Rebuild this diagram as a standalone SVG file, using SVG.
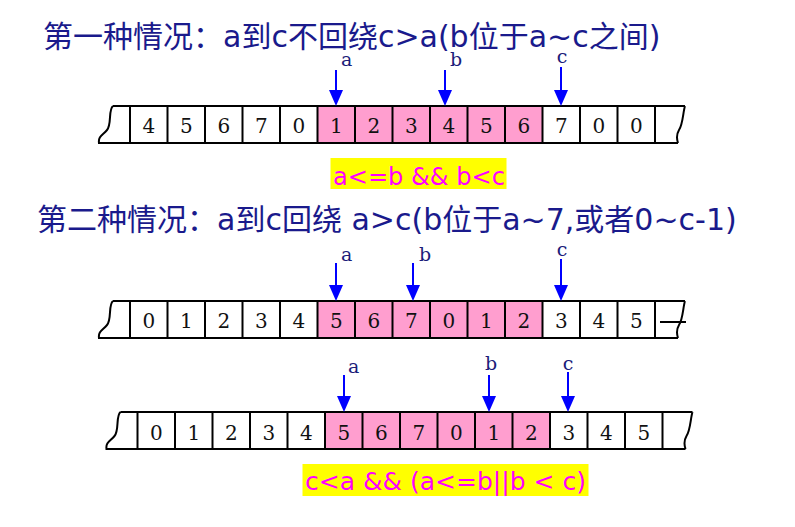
<svg xmlns="http://www.w3.org/2000/svg" width="795" height="527" viewBox="0 0 795 527">
<style>
.title{fill:#1a1a8c;font-family:"DejaVu Sans","Noto Sans CJK SC",sans-serif;}
.cj{font-family:"Noto Sans CJK SC",sans-serif;font-size:30px;}
.la{font-family:"DejaVu Sans",sans-serif;font-size:30px;}
.ln{stroke:#000;stroke-width:2;fill:none;}
.pk{fill:#ff9ecf;}
.dg{font-family:"DejaVu Serif","Liberation Serif",serif;font-size:20px;fill:#111;text-anchor:middle;}
.lb{font-family:"DejaVu Serif","Liberation Serif",serif;font-size:19px;fill:#1c1c7a;}
.arr{stroke:#0000ff;stroke-width:2;fill:none;marker-end:url(#ah);}
.box{fill:#ffff00;}
.cond{font-family:"DejaVu Sans",sans-serif;font-size:24px;fill:#ff00ff;}
</style>
<defs>
<marker id="ah" viewBox="0 0 16 14" refX="6" refY="7" markerWidth="16" markerHeight="14" markerUnits="userSpaceOnUse" orient="auto">
<path d="M0,0 L16,7 L0,14 z" fill="#0000ff"/>
</marker>
</defs>
<rect width="795" height="527" fill="#fff"/>

<g id="title1">
<text class="title" x="43" y="47"><tspan class="cj">第一种情况：</tspan><tspan class="la">a</tspan><tspan class="cj">到</tspan><tspan class="la">c</tspan><tspan class="cj">不回绕</tspan><tspan class="la">c&gt;a(b</tspan><tspan class="cj">位于</tspan><tspan class="la">a~c</tspan><tspan class="cj">之间</tspan><tspan class="la">)</tspan></text>
</g>

<g id="array1">
<rect class="pk" x="317.5" y="106" width="225" height="37"/>
<path class="ln" d="M113,106 H685 M98,143 H678 M113,106 C108,110 112,124 107,130 C103,135 98,136 99,143 M685,106 C683,112 683,124 679,130 C676,135 677,140 678,143"/>
<path class="ln" d="M130,106V143 M167.5,106V143 M205,106V143 M242.5,106V143 M280,106V143 M317.5,106V143 M355,106V143 M392.5,106V143 M430,106V143 M467.5,106V143 M505,106V143 M542.5,106V143 M580,106V143 M617.5,106V143 M655,106V143"/>
<g class="dg">
<text x="148.75" y="133">4</text><text x="186.25" y="133">5</text><text x="223.75" y="133">6</text><text x="261.25" y="133">7</text><text x="298.75" y="133">0</text><text x="336.25" y="133">1</text><text x="373.75" y="133">2</text><text x="411.25" y="133">3</text><text x="448.75" y="133">4</text><text x="486.25" y="133">5</text><text x="523.75" y="133">6</text><text x="561.25" y="133">7</text><text x="598.75" y="133">0</text><text x="636.25" y="133">0</text>
</g>
</g>

<g id="labels1">
<text class="lb" x="341" y="66">a</text>
<text class="lb" x="450" y="66">b</text>
<text class="lb" x="562" y="63" text-anchor="middle">c</text>
</g>

<g id="cond1">
<rect class="box" x="330.5" y="158" width="176" height="31"/>
<text class="cond" x="333" y="185" textLength="172" lengthAdjust="spacingAndGlyphs">a&lt;=b &amp;&amp; b&lt;c</text>
</g>

<g id="title2">
<text class="title" x="37" y="230"><tspan class="cj">第二种情况：</tspan><tspan class="la">a</tspan><tspan class="cj">到</tspan><tspan class="la">c</tspan><tspan class="cj">回绕</tspan><tspan class="la" xml:space="preserve"> a&gt;c(b</tspan><tspan class="cj">位于</tspan><tspan class="la">a~7,</tspan><tspan class="cj">或者</tspan><tspan class="la">0~c-1)</tspan></text>
</g>

<g id="array2">
<rect class="pk" x="317.5" y="301" width="225" height="37"/>
<path class="ln" d="M113,301 H685 M98,338 H678 M113,301 C108,305 112,319 107,325 C103,330 98,331 99,338 M685,301 C683,307 683,319 679,325 C676,330 677,335 678,338 M660,322 H686"/>
<path class="ln" d="M130,301V338 M167.5,301V338 M205,301V338 M242.5,301V338 M280,301V338 M317.5,301V338 M355,301V338 M392.5,301V338 M430,301V338 M467.5,301V338 M505,301V338 M542.5,301V338 M580,301V338 M617.5,301V338 M655,301V338"/>
<g class="dg">
<text x="148.75" y="328">0</text><text x="186.25" y="328">1</text><text x="223.75" y="328">2</text><text x="261.25" y="328">3</text><text x="298.75" y="328">4</text><text x="336.25" y="328">5</text><text x="373.75" y="328">6</text><text x="411.25" y="328">7</text><text x="448.75" y="328">0</text><text x="486.25" y="328">1</text><text x="523.75" y="328">2</text><text x="561.25" y="328">3</text><text x="598.75" y="328">4</text><text x="636.25" y="328">5</text>
</g>
</g>

<g id="labels2">
<text class="lb" x="341" y="261">a</text>
<text class="lb" x="419" y="261">b</text>
<text class="lb" x="562" y="256" text-anchor="middle">c</text>
</g>

<g id="array3">
<rect class="pk" x="325" y="412" width="225" height="37"/>
<path class="ln" d="M120.5,412 H692.5 M105.5,449 H685.5 M120.5,412 C115.5,416 119.5,430 114.5,436 C110.5,441 105.5,442 106.5,449 M692.5,412 C690.5,418 690.5,430 686.5,436 C683.5,441 684.5,446 685.5,449"/>
<path class="ln" d="M137.5,412V449 M175,412V449 M212.5,412V449 M250,412V449 M287.5,412V449 M325,412V449 M362.5,412V449 M400,412V449 M437.5,412V449 M475,412V449 M512.5,412V449 M550,412V449 M587.5,412V449 M625,412V449 M662.5,412V449"/>
<g class="dg">
<text x="156.25" y="440">0</text><text x="193.75" y="440">1</text><text x="231.25" y="440">2</text><text x="268.75" y="440">3</text><text x="306.25" y="440">4</text><text x="343.75" y="440">5</text><text x="381.25" y="440">6</text><text x="418.75" y="440">7</text><text x="456.25" y="440">0</text><text x="493.75" y="440">1</text><text x="531.25" y="440">2</text><text x="568.75" y="440">3</text><text x="606.25" y="440">4</text><text x="643.75" y="440">5</text>
</g>
</g>

<g id="labels3">
<text class="lb" x="348" y="373">a</text>
<text class="lb" x="491" y="370" text-anchor="middle">b</text>
<text class="lb" x="568" y="370" text-anchor="middle">c</text>
</g>

<g id="cond2">
<rect class="box" x="302.5" y="464" width="286" height="32"/>
<text class="cond" x="305" y="490" textLength="281" lengthAdjust="spacingAndGlyphs">c&lt;a &amp;&amp; (a&lt;=b||b &lt; c)</text>
</g>

<g id="connectors">
<line class="arr" x1="336" y1="70" x2="336" y2="96"/>
<line class="arr" x1="445" y1="70" x2="445" y2="96"/>
<line class="arr" x1="561" y1="67" x2="561" y2="96"/>
<line class="arr" x1="336" y1="263" x2="336" y2="291"/>
<line class="arr" x1="413" y1="263" x2="413" y2="291"/>
<line class="arr" x1="561" y1="259" x2="561" y2="291"/>
<line class="arr" x1="344" y1="375" x2="344" y2="402"/>
<line class="arr" x1="489" y1="375" x2="489" y2="402"/>
<line class="arr" x1="568" y1="372" x2="568" y2="402"/>
</g>
</svg>
